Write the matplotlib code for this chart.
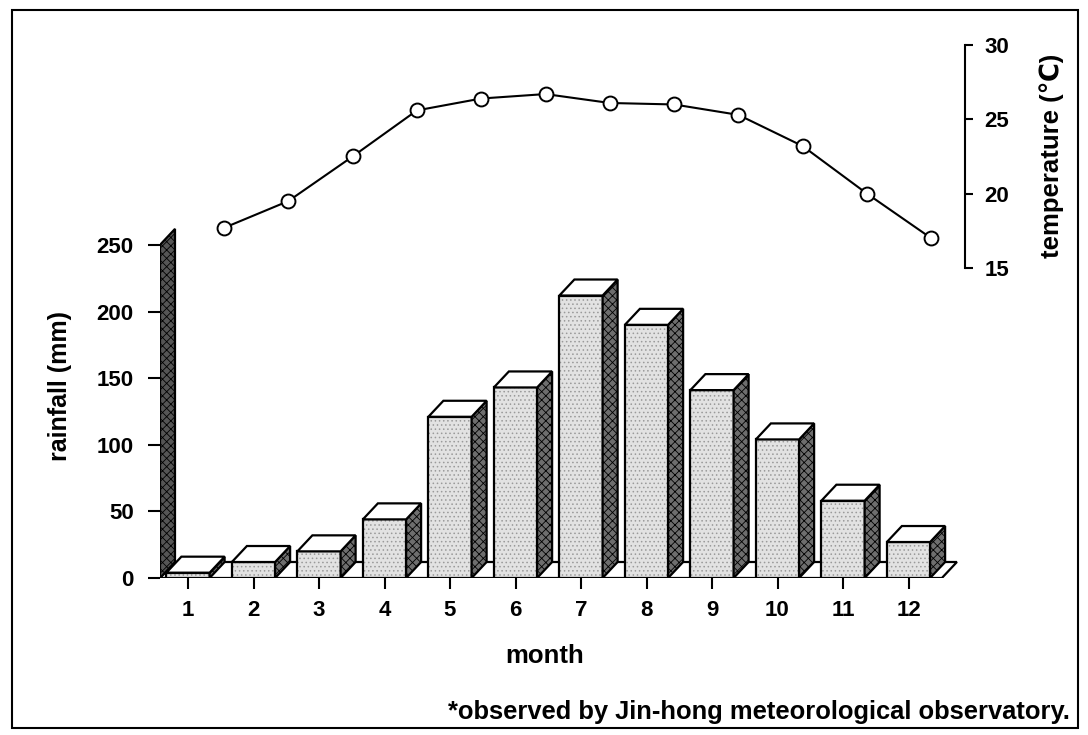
import numpy as np
import matplotlib
matplotlib.use("Agg")
import matplotlib.pyplot as plt
from matplotlib.patches import Polygon, Rectangle

plt.rcParams["font.family"] = ["Liberation Sans", "DejaVu Sans"]
plt.rcParams["font.weight"] = "bold"
plt.rcParams["hatch.linewidth"] = 0.6

# data
months = list(range(1, 13))
month_labels = [str(m) for m in months]
rainfall = [4, 12, 20, 44, 121, 143, 212, 190, 141, 104, 58, 27]
temperature = [17.7, 19.5, 22.5, 25.6, 26.4, 26.7, 26.1, 26.0, 25.3, 23.2, 20.0, 17.0]
rain_ticks = [0, 50, 100, 150, 200, 250]
temp_ticks = [15, 20, 25, 30]

W, H = 1088, 735
fig = plt.figure(figsize=(W / 100, H / 100), dpi=100)

# pixel layout of the plotting area
px_left, px_right, px_base, px_top = 160, 965, 578, 45
ax = fig.add_axes([px_left / W, 1 - px_base / H, (px_right - px_left) / W, (px_base - px_top) / H])
px_per_month = 65.5
ax.set_xlim(1 + (px_left - 188) / px_per_month, 1 + (px_right - 188) / px_per_month)
ax.set_ylim(0, 400)
for s in ax.spines.values():
    s.set_visible(False)

x0 = ax.get_xlim()[0]
dx = 15 / px_per_month          # depth offset, months
dy = 16 / ((px_base - px_top) / 400)  # depth offset, mm
bw = 0.66

front_c, side_c = "#e2e2e2", "#6e6e6e"
z = [2]


def face(pts, fc, hatch=None, hc="#9a9a9a"):
    ax.add_patch(Polygon(pts, closed=True, facecolor=fc, edgecolor=hc, hatch=hatch, lw=0, zorder=z[0]))
    ax.add_patch(Polygon(pts, closed=True, facecolor="none", edgecolor="black", lw=1.6,
                         zorder=z[0] + 0.5, joinstyle="miter"))
    z[0] += 1


# floor and back wall
x_end = 12.51
face([(x0, 0), (x_end, 0), (x_end + dx, dy), (x0 + dx, dy)], "white")
face([(x0, 0), (x0, 250), (x0 + dx, 250 + dy), (x0 + dx, dy)], "#555555", hatch="xxxx", hc="black")

for m, r in zip(months, rainfall):
    l, rr = m - bw / 2, m + bw / 2
    face([(l, 0), (rr, 0), (rr, r), (l, r)], front_c, hatch="....")
    face([(rr, 0), (rr + dx, dy), (rr + dx, r + dy), (rr, r)], side_c, hatch="xxxx", hc="black")
    face([(l, r), (rr, r), (rr + dx, r + dy), (l + dx, r + dy)], "white")

ax.set_yticks(rain_ticks)
ax.set_xticks(months)
ax.set_xticklabels(month_labels)
ax.tick_params(axis="y", length=9, width=1.5, labelsize=16, pad=10)
ax.tick_params(axis="x", length=8, width=1.5, labelsize=16, pad=8)

fig.text(60 / W, 1 - 386 / H, "rainfall (mm)", rotation=90, ha="center", va="center",
         fontsize=18, fontweight="bold")
fig.text(545 / W, 1 - 656 / H, "month", ha="center", va="center", fontsize=18.5, fontweight="bold")

# temperature line on its own axes (points sit slightly deeper than the bars)
ax2 = fig.add_axes(ax.get_position().bounds, facecolor="none")
tpx = 64.3
ax2.set_xlim(1 + (px_left - 224) / tpx, 1 + (px_right - 224) / tpx)
ax2.set_ylim(15 - (px_base - 268) / ((268 - 45) / 15), 30)
ax2.plot(months, temperature, color="black", lw=1.5, marker="o", markersize=10,
         markerfacecolor="white", markeredgecolor="black", markeredgewidth=1.4, zorder=5)
for k, s in ax2.spines.items():
    s.set_visible(k == "right")
ax2.spines["right"].set_bounds(15, 30)
ax2.spines["right"].set_linewidth(1.5)
ax2.set_xticks([])
ax2.yaxis.tick_right()
ax2.set_yticks(temp_ticks)
ax2.tick_params(axis="y", length=6, width=1.5, labelsize=16, pad=8)
fig.text(1052 / W, 1 - 156 / H, "temperature (\u2103)", rotation=90, ha="center", va="center",
         fontsize=18.5, fontweight="bold")

fig.text(1070 / W, 1 - 712 / H, "*observed by Jin-hong meteorological observatory.",
         ha="right", va="center", fontsize=18.4, fontweight="bold")

fig.patches.append(Rectangle((12 / W, 1 - 728 / H), 1066 / W, 718 / H, transform=fig.transFigure,
                             fill=False, edgecolor="black", lw=1.5))

fig.savefig("out.png", dpi=100)
